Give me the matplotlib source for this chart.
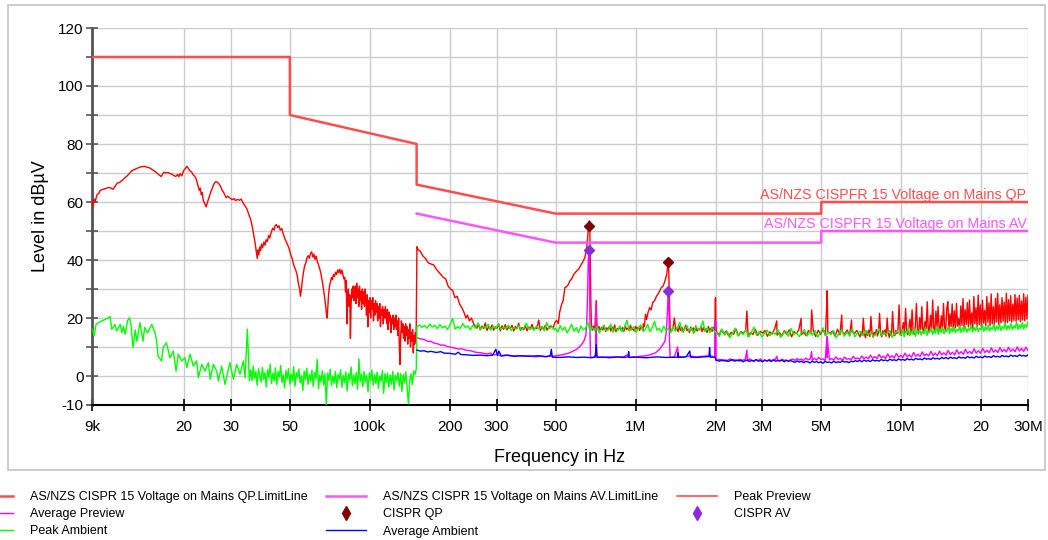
import numpy as np
import matplotlib
matplotlib.use("Agg")
import matplotlib.pyplot as plt
from matplotlib.lines import Line2D
from matplotlib.patches import Rectangle

plt.rcParams['font.family'] = ['Liberation Sans', 'DejaVu Sans']

# ---- limit lines (kHz, dBuV) ----
qp_limit_khz = [9, 50, 50, 150, 150, 500, 5000, 5000, 30000]
qp_limit_db = [110, 110, 90, 80, 66, 56, 56, 60, 60]
av_limit_khz = [150, 500, 5000, 5000, 30000]
av_limit_db = [56, 46, 46, 50, 50]

# ---- final CISPR measurements ----
qp_khz = [668, 1328]
qp_db = [51.6, 39.3]
av_khz = [668, 1328]
av_db = [43.5, 29.3]

# ---- Peak Preview (red) ----
red_a_khz = [9.0, 9.05, 9.15, 9.25, 9.4, 9.55, 9.65, 9.85, 10.1, 10.3, 10.5, 10.8, 11.0, 11.2, 11.45,
             11.7, 11.95, 12.2, 12.5, 12.7, 13.0, 13.3, 13.6, 13.9, 14.2, 14.5, 14.8, 15.1, 15.5, 15.8,
             16.1, 16.4, 16.6, 16.8, 17.1, 17.4, 17.7, 18.0, 18.3, 18.6, 18.9, 19.1, 19.3, 19.6, 19.9,
             20.2, 20.5, 20.8, 21.1, 21.4, 21.6, 21.9, 22.2, 22.5, 22.8, 23.0, 23.2, 23.4, 23.6, 23.9,
             24.2, 24.5, 24.8, 25.2, 25.7, 26.0, 26.3, 26.7, 27.0, 27.4, 27.8, 28.2, 28.8, 29.2, 29.8,
             30.3, 30.8, 31.2, 31.8, 32.3, 32.8, 33.4, 34.0, 34.5, 35.0, 35.6, 36.1, 36.5, 36.9, 37.1,
             37.4, 37.7, 37.9, 38.2, 38.5, 38.8, 39.1, 39.5, 39.9, 40.3, 40.7, 41.1, 41.6, 42.0, 42.5,
             43.1, 43.6, 44.0, 44.5, 45.0, 45.5, 46.0, 46.6, 47.2, 47.8, 48.4, 49.0, 49.6, 50.3, 51.0,
             51.8, 52.6, 53.2, 53.8, 54.4, 54.8, 55.2, 55.7, 56.2, 56.8, 57.4, 58.0, 58.6, 59.2, 59.8,
             60.4, 61.0, 61.6, 62.2, 62.8, 63.4, 64.0, 64.6, 65.2, 65.8, 66.4, 67.0, 67.6, 68.2, 68.6,
             69.0, 69.4, 69.9, 70.5, 71.1, 71.7, 72.3, 72.9, 73.6, 74.3, 75.0, 75.7, 76.4, 77.1, 77.8,
             78.5, 79.2, 79.8]
red_a_db = [60.5, 58.0, 61.0, 60.2, 62.5, 63.0, 64.0, 64.3, 64.6, 64.9, 65.0, 64.4, 65.5, 66.5, 66.8,
            67.5, 68.3, 69.0, 70.0, 70.8, 71.2, 71.6, 72.0, 72.2, 72.3, 72.0, 71.8, 71.3, 70.6, 70.0,
            69.3, 68.8, 69.6, 70.3, 70.0, 70.2, 69.8, 69.6, 69.1, 68.8, 69.5, 68.7, 69.8, 69.0, 70.8,
            71.5, 72.3, 71.4, 70.6, 70.2, 69.5, 68.9, 68.0, 66.0, 64.0, 64.8, 62.5, 63.3, 60.5, 59.5,
            58.3, 60.0, 61.5, 63.5, 65.5, 66.5, 67.0, 66.8, 66.3, 65.5, 64.0, 63.2, 61.5, 62.0, 61.3,
            60.8, 61.2, 60.5, 60.9, 60.6, 61.0, 59.5, 58.5, 57.5, 55.8, 54.0, 51.5, 49.0, 46.5, 45.0,
            43.0, 40.5, 43.5, 41.8, 44.5, 43.2, 45.5, 44.3, 46.2, 45.1, 47.0, 46.3, 48.5, 47.6, 49.5,
            51.0, 50.3, 51.8, 52.2, 51.2, 51.8, 50.3, 50.9, 49.0, 47.5, 46.4, 45.3, 44.1, 42.0, 40.5,
            38.0, 36.5, 35.0, 32.0, 30.0, 27.5, 29.5, 33.0, 35.5, 38.0, 39.0, 40.8, 41.5, 40.6, 42.3,
            42.8, 41.0, 42.0, 40.2, 41.3, 39.5, 38.5, 37.2, 36.0, 34.0, 32.0, 29.5, 27.0, 24.0, 21.5,
            20.0, 23.0, 28.0, 31.0, 32.5, 34.0, 33.2, 35.0, 34.3, 35.8, 35.0, 36.6, 35.6, 36.8, 35.2,
            36.5, 34.8, 33.5]
# dense band 80 kHz .. 149 kHz
red_band_db = [34, 29, 33, 18, 27, 30, 24, 28, 13, 25, 30, 27, 31, 26, 30,
               31, 25, 32, 27, 30, 24, 31, 26, 29, 23, 30, 25, 29, 24, 30,
               27, 21, 28, 17, 26, 22, 27, 20, 26, 23, 27, 19, 25, 21, 26,
               22, 25, 19, 24, 20, 25, 17, 23, 21, 24, 18, 23, 20, 24,
               21, 18, 23, 16, 22, 19, 21, 15, 20, 18, 21, 16, 20, 17,
               21, 16, 19, 14, 20, 10, 4, 14, 19, 15, 18, 13, 17, 12, 18,
               14, 17, 11, 16, 13, 18, 10, 15, 12, 16, 8, 14, 11, 15, 12]
red_b_khz = [150.4, 152, 155, 158, 162, 166, 170, 174, 178, 183, 189, 193, 197, 201, 205, 209,
             213, 218, 222, 226, 230, 233, 237, 241, 246, 250]
red_b_db = [44.6, 43.5, 43.0, 41.5, 40.5, 39.0, 38.6, 38.3, 36.8, 35.5, 34.0, 33.5, 31.0, 30.0,
            29.5, 27.0, 27.5, 24.7, 23.5, 22.0, 20.0, 21.0, 19.0, 20.0, 18.0, 17.0]
red_r1_db = [16.5, 17.8, 15.9, 17.2, 16.4, 18.3, 15.7, 17.0, 16.2, 17.6, 15.8, 16.9, 16.5, 18.0, 15.6,
             17.3, 16.1, 17.7, 15.9, 16.8, 16.4, 17.5, 15.5, 17.1, 16.3, 18.2, 15.8, 16.7, 16.0, 17.4,
             15.6, 16.9, 16.2, 17.8, 15.9, 16.6, 16.4, 19.3, 15.7, 17.0, 16.1, 17.5, 15.8, 16.8, 17.2]
red_c_khz = [482, 490, 497, 505, 512, 518, 527, 534, 542, 550, 558, 566, 575, 585, 600, 612, 625,
             636, 645, 652, 658, 663, 667, 670, 673, 676, 679, 682, 688, 695, 703, 711, 716]
red_c_db = [17.2, 16.5, 18.5, 19.2, 18.0, 22.0, 24.7, 26.0, 30.5, 30.8, 31.5, 32.8, 33.5, 35.0, 36.2,
            37.0, 38.5, 39.7, 41.0, 43.0, 46.0, 50.0, 52.5, 53.5, 50.0, 38.0, 25.0, 18.0, 15.8, 17.2,
            16.4, 26.0, 17.5]
red_r2_db = [16.2, 17.1, 15.6, 16.8, 15.9, 17.4, 15.4, 16.6, 16.0, 17.2, 15.5, 16.9, 15.8, 17.6, 15.3,
             16.4, 16.1, 17.0, 15.7, 16.7, 15.4, 17.3, 16.0, 16.5, 15.6, 17.5, 15.9, 16.3, 15.5, 17.1,
             16.2, 16.8, 15.7, 17.0, 16.4]
red_d_khz = [1065, 1070, 1080, 1090, 1100, 1115, 1130, 1145, 1160, 1180, 1200, 1220, 1250, 1270,
             1290, 1310, 1322, 1328, 1334, 1340, 1350, 1360]
red_d_db = [15.8, 18.0, 17.0, 21.3, 19.5, 22.0, 23.6, 22.8, 25.3, 26.0, 27.6, 28.5, 30.5, 31.0,
            32.8, 35.0, 38.0, 40.0, 36.0, 27.0, 16.0, 15.5]
red_r3_db = [15.6, 16.9, 20.0, 15.9, 16.5, 15.3, 17.2, 15.7, 16.8, 15.2, 16.4, 17.5, 15.6, 16.1, 15.0,
             16.9, 15.8, 16.6, 15.1, 17.3, 15.5, 16.2, 15.9, 17.0, 15.3, 16.7, 15.6, 16.3, 15.0, 17.1,
             15.7, 16.5, 15.4, 16.8, 15.9]
red_spike_khz = [1990, 1996, 2000, 2006, 2625, 3400, 4200, 4600, 5240, 5260, 5280, 5970, 6500]
red_spike_db = [16.0, 26.5, 27.0, 17.0, 22.4, 19.0, 19.9, 22.8, 24.0, 29.4, 23.0, 21.0, 19.3]
red_r4_db = [15.2, 14.1, 16.0, 14.6, 15.5, 13.8, 15.1, 14.4, 16.2, 13.9, 15.3, 14.7, 15.8, 13.6, 15.0,
             14.3, 16.1, 14.0, 15.4, 14.8, 15.7, 13.7, 15.2, 14.5, 16.3, 14.1, 15.0, 13.8, 15.6, 14.4,
             15.9, 13.5, 15.3, 14.6, 16.0, 14.2, 15.1, 13.9, 15.7, 14.7, 15.4, 13.6, 15.8, 14.3, 16.2,
             14.0, 15.2, 14.8, 15.5, 13.7, 16.1, 14.2, 15.0, 14.5, 15.9, 13.8, 15.4, 14.6, 15.7, 14.1]
red_r5_db = [13.5, 15.2, 14.1, 19.9, 14.6, 13.2, 15.5, 14.0, 15.8, 13.6, 20.5, 14.9, 13.4, 15.1, 14.2,
             16.0, 13.8, 15.0, 21.6, 14.3, 13.5, 15.6, 14.4, 15.9, 13.7, 20.0, 14.8, 13.3, 15.4, 14.1,
             22.2, 15.0, 13.9, 15.7, 14.6, 16.1,
             24.5, 15.2, 14.0, 16.3, 18.5, 14.5, 23.3, 15.6, 14.2, 16.8, 19.5, 14.8, 22.8, 15.1, 14.4,
             17.2, 25.0, 15.5, 14.6, 20.1, 16.0, 23.9, 14.9, 15.8, 18.9, 16.4, 25.6, 15.0, 16.2, 21.0,
             15.4, 26.2, 16.6, 15.2, 22.4, 16.9, 24.0, 15.6, 16.4, 20.8, 15.9, 25.0, 16.8, 15.5, 23.2,
             25.6, 16.2, 21.4, 17.0, 24.8, 15.8, 22.5, 16.6, 25.0, 17.2, 19.8, 16.1, 24.2, 17.4, 26.7,
             16.5, 22.9, 17.8, 25.3, 16.9, 26.2, 17.5, 21.8, 16.4, 27.4, 18.0, 23.6, 17.1, 27.9, 17.7,
             24.5, 16.8, 26.1, 18.2, 22.7, 17.4, 27.4, 18.5, 25.2, 17.3, 28.3, 18.0, 23.9, 17.6, 26.8,
             18.7, 28.5, 17.8, 24.6, 18.3, 27.0, 18.9, 25.5, 17.9, 28.5, 18.4, 26.3, 19.0, 27.7, 18.6,
             24.8, 19.2, 28.1, 18.8, 26.9, 19.4, 27.9, 18.7, 25.9, 19.3, 28.4, 19.0, 27.2, 19.6, 27.9]

# ---- Average Preview (magenta) ----
mag_a_khz = [150.4, 155, 160, 165, 170, 175, 180, 185, 190, 195, 200, 207, 215, 222, 230, 240, 250,
             262, 275, 285, 290, 300, 310, 325, 340, 360, 380, 400, 420, 440, 460, 480, 500, 520, 540,
             560, 580, 600, 615, 630, 640, 650, 655, 660, 664, 668, 671, 674, 677, 690, 700, 708, 711,
             714, 725, 760, 800, 850, 900, 940, 950, 1000, 1050, 1100, 1150, 1190, 1230, 1260, 1290,
             1305, 1318, 1328, 1335, 1342, 1350, 1400, 1440, 1450, 1500, 1600, 1700, 1800, 1900, 1985,
             1990, 2005, 2010]
mag_a_db = [13.2, 12.8, 12.6, 12.0, 11.9, 11.3, 11.1, 10.6, 10.7, 10.2, 10.0, 9.7, 9.3, 9.4, 8.9, 8.7,
            8.2, 8.0, 7.6, 7.9, 7.3, 7.4, 7.0, 7.2, 6.9, 7.0, 6.8, 6.9, 6.6, 6.8, 6.6, 6.9, 6.9, 7.2,
            7.5, 7.9, 8.5, 9.2, 10.0, 11.2, 12.2, 14.0, 18.0, 28.0, 40.0, 43.5, 38.0, 15.0, 6.5, 6.4,
            6.6, 7.5, 24.5, 7.2, 6.5, 6.4, 6.6, 6.5, 6.6, 7.5, 6.5, 6.6, 6.8, 7.0, 7.5, 8.0, 9.2, 10.5,
            12.0, 15.0, 22.0, 29.3, 25.0, 12.0, 6.4, 6.6, 10.0, 6.8, 6.5, 6.9, 6.6, 6.8, 7.0, 6.6,
            19.0, 19.0, 5.5]
mag_spike_khz = [2625, 3400, 4600, 5250, 5262, 5275]
mag_spike_db = [8.9, 6.8, 8.4, 13.0, 13.6, 12.5]
mag_noise_db = [5.4, 5.8, 5.2, 5.6, 5.0, 5.5, 5.9, 5.3, 5.6, 5.4, 5.7, 5.1, 5.5, 5.8, 5.2, 5.9, 5.4,
                5.0, 5.6, 5.3, 5.9, 5.2, 5.5, 5.1, 5.7, 5.4, 5.3, 5.8, 5.6, 5.2, 5.8, 5.4, 5.5, 5.1, 5.7,
                5.8, 5.4, 6.0, 5.5, 5.9, 5.3, 6.2, 5.6, 5.8, 5.4, 6.1, 5.5, 6.4, 5.7, 5.9, 5.3, 6.3,
                5.6, 6.0, 5.5, 6.6, 5.7, 6.1, 5.4, 6.5, 5.8, 6.0, 5.6, 6.8, 5.9,
                6.2, 5.8, 6.9, 6.0, 6.5, 5.9, 7.2, 6.1, 6.7, 6.0, 7.4, 6.3, 6.8, 6.1, 7.6, 6.4, 7.0,
                6.2, 7.8, 6.5, 7.1, 6.4, 7.9, 6.6, 7.3, 6.5, 8.1, 6.8, 7.5, 6.7, 8.3, 7.0, 7.6, 6.9,
                8.5, 7.1, 7.9, 7.0, 8.6, 7.3,
                8.0, 7.2, 8.8, 7.4, 8.2, 7.3, 9.0, 7.6, 8.4, 7.5, 9.2, 7.8, 8.5, 7.7, 9.4, 7.9, 8.7,
                7.8, 9.5, 8.1, 8.9, 8.0, 9.7, 8.2, 9.0, 8.1, 9.8, 8.4, 9.2, 8.3, 9.9, 8.5, 9.3, 8.4,
                10.0, 8.6, 9.5, 8.5, 9.9, 8.8]

# ---- Peak Ambient (green) ----
grn_a_khz = [9.05, 9.16, 9.32, 9.52, 9.79, 10.07, 10.37, 10.52, 10.68, 10.99, 11.15, 11.48, 11.65,
             11.82, 12.0, 12.24, 12.46, 12.61, 12.84, 13.1, 13.27, 13.64, 14.0, 14.2, 14.58, 15.1,
             15.54, 15.76, 15.95, 16.44, 16.68, 17.15, 17.69, 18.2, 18.65, 19.01, 19.57, 20.16,
             20.46, 21.06, 21.66, 22.3, 22.62, 23.3, 23.98, 24.68, 25.05, 25.77, 26.53, 26.9, 27.68,
             28.5, 29.33, 29.76, 30.64, 31.53, 32.46, 33.4, 33.9, 34.6, 35.2]
grn_a_db = [16.1, 13.8, 17.8, 18.4, 19.0, 19.5, 20.1, 20.5, 16.1, 17.8, 15.5, 17.8, 14.9, 17.2, 14.4,
            19.0, 20.1, 17.8, 9.8, 15.9, 12.0, 18.4, 12.0, 16.7, 14.9, 17.8, 14.9, 12.0, 6.9, 5.2,
            9.8, 11.5, 6.3, 8.6, 1.7, 7.5, 5.2, 6.3, 2.9, 7.5, 3.4, 5.2, -0.6, 4.0, 1.7, 4.6, -1.1,
            4.0, 1.7, -1.7, 3.4, -2.9, 2.3, 4.6, -1.1, 4.0, 0.6, 5.2, -0.6, 16.1, -1.7]
grn_band_db = [2.1, -1.5, 3.4, -0.8, 1.6, -3.2, 2.5, 0.2, -2.1, 3.0, -1.2, 1.1, -3.8, 2.2, -0.5, 4.1,
               -2.6, 0.9, -1.7, 2.8, -3.0, 1.5, -0.3, 3.6, -2.2, 0.4, -4.1, 1.9, -1.0, 2.6, -2.8, 0.7,
               -1.9, 3.2, -3.5, 1.2, -0.6, 2.4, -2.4, 0.1, -5.0, 1.7, -1.3, 2.7, -2.9, 0.6, -1.8,
               2.0, -3.6, 1.3, -0.9, 5.7, -4.4, 0.3, -2.0, 1.8, -3.1, 0.8, -9.8, 1.0, -1.6, 2.3,
               -3.3, 0.0, -2.5, 1.6, -4.0, 0.5, -1.1, 2.1, -3.9, 0.2, -2.3, 1.4, -5.2, 0.9, -1.4,
               3.1, -3.4, 0.4, -2.7, 1.2, -4.6, 5.9, -1.9, 0.7, -3.7, 1.5, -2.1, 0.3, -5.5, 1.1,
               -1.5, 2.0, -3.2, 0.6, -2.6, 1.3, -4.3, 0.1, -1.8, 1.9, -6.0, 0.8, -2.2, 1.0, -3.8,
               0.4, -2.9, 1.6, -4.8, 0.2, -1.6, 1.2, -3.5, 0.9, -5.3, 0.5, -2.4, 1.4, -4.1, -9.6,
               -1.7, 0.8, -3.0, 1.7, 0.5, 2.4]
grn_g3_db = [17.0, 17.6, 16.8, 17.4, 16.5, 17.9, 16.9, 17.5, 16.3, 17.8, 16.6, 17.2, 16.0, 17.7, 19.9,
             16.2, 17.0, 16.4, 18.1, 16.7, 17.3, 15.9, 17.6, 16.5, 18.3, 16.1, 17.0, 16.6, 17.8, 15.8,
             17.2, 16.4, 18.0, 16.0, 16.9, 16.3, 17.5, 15.7, 16.8, 16.2, 17.4, 15.9, 16.6, 18.2, 16.0,
             16.7, 15.8, 17.3, 16.1, 16.9, 15.6, 18.4, 16.3, 17.0, 15.9]
grn_g4_db = [16.5, 15.2, 17.4, 15.8, 16.9, 14.9, 16.2, 17.8, 15.4, 16.7, 15.0, 17.2, 15.9, 16.4, 18.6,
             15.3, 16.8, 15.6, 17.1, 14.8, 16.3, 17.5, 15.5, 16.0, 17.9, 15.1, 16.6, 15.7, 17.3, 15.2,
             16.9, 19.2, 15.6, 16.2, 17.0, 15.0, 16.5, 17.6, 15.4, 16.1, 17.8, 15.3, 16.7, 18.9, 15.8,
             16.4, 15.1, 17.2, 15.7, 16.3, 14.9, 17.0, 15.5, 16.8, 18.5, 15.2, 16.0, 17.4, 15.6, 16.6,
             14.7, 17.1, 15.9, 16.2, 19.0, 15.3, 16.5, 15.0, 16.9, 15.4]
grn_g5_db = [15.0, 13.6, 16.2, 14.1, 15.4, 13.2, 14.8, 16.5, 13.8, 15.1, 14.3, 15.9, 13.5, 14.9, 16.8,
             14.0, 15.3, 13.4, 14.7, 15.8, 13.9, 15.2, 14.4, 16.1, 13.3, 14.6, 15.5, 13.7, 16.4, 14.2,
             15.0, 13.6, 14.9, 16.0, 13.8, 15.3, 14.1, 15.7, 13.4, 14.8, 16.6, 13.9, 15.1, 14.3, 15.6,
             13.2, 14.7, 15.9, 13.7, 15.2, 14.0, 16.3, 13.5, 14.9, 15.4, 13.8, 15.8, 14.2, 15.1, 13.6,
             14.6, 16.2, 13.9, 15.0, 14.4, 15.7, 13.3, 14.8, 15.5, 14.1]
grn_g6_db = [14.2, 16.1, 13.5, 15.4, 14.8, 16.6, 13.9, 15.2, 14.5, 16.3, 13.7, 15.8, 14.9, 16.0, 14.1,
             15.6, 14.6, 16.8, 14.0, 15.3, 15.1, 16.5, 14.3, 15.9, 14.8, 17.0, 14.4, 16.2, 15.0, 16.7,
             14.6, 15.8, 15.3, 17.1, 14.7, 16.4, 15.2, 16.9, 14.9, 16.1, 15.5, 17.3, 15.0, 16.6, 15.4,
             17.2, 15.1, 16.3, 15.7, 17.5, 15.2, 16.8, 15.6, 17.4, 15.3, 16.5, 15.9, 17.7, 15.4, 17.0,
             15.8, 17.6, 15.5, 16.7, 16.1, 18.0, 15.6, 17.2, 16.0, 17.9, 15.7, 17.0, 16.3, 18.3, 15.9,
             17.4, 16.2, 18.1, 16.0, 17.3, 16.5, 18.6, 16.1, 17.6, 16.4, 18.4, 16.2, 17.8, 16.8, 18.9]

# ---- Average Ambient (blue) ----
blu_a_khz = [150.4, 155, 160, 165, 170, 178, 185, 190, 200, 210, 215, 220, 232, 245, 260, 275, 290,
             298, 302, 306, 312, 330, 350, 370, 400, 430, 460, 478, 482, 486, 520, 560, 600, 640, 680,
             705, 711, 716, 760, 800, 850, 900, 938, 942, 946, 1000, 1100, 1200, 1300, 1440, 1445,
             1450, 1550, 1600, 1610, 1700, 1800, 1890, 1900, 1910, 1990, 2010]
blu_a_db = [8.9, 8.6, 8.7, 8.3, 8.5, 8.1, 8.4, 7.9, 7.8, 7.5, 8.2, 7.4, 7.3, 7.1, 7.2, 7.0, 7.2, 9.2,
            7.1, 8.6, 6.9, 7.2, 6.8, 7.0, 6.8, 7.0, 6.7, 7.0, 9.2, 6.5, 6.4, 6.6, 6.4, 6.5, 6.3, 6.5,
            10.9, 6.4, 6.5, 6.3, 6.6, 6.4, 6.6, 8.4, 6.4, 6.5, 6.3, 6.6, 6.4, 6.5, 8.0, 6.4, 6.6, 8.6,
            6.5, 6.4, 6.6, 6.7, 9.8, 6.5, 6.5, 5.4]
blu_noise_db = [5.4, 5.1, 5.6, 5.2, 5.5, 5.0, 5.3, 5.7, 5.1, 5.4, 5.2, 5.6, 4.9, 5.3, 5.5, 5.0, 5.4,
                5.2, 5.7, 5.1, 5.3, 4.9, 5.5, 5.2, 5.4, 5.0, 5.6, 5.1, 5.3, 5.2, 5.5, 4.9, 5.4, 5.1, 5.3,
                5.0, 4.7, 5.2, 4.8, 5.1, 4.6, 5.0, 4.9, 4.5, 5.1, 4.7, 5.0, 4.6, 4.9, 4.4, 5.0, 4.7,
                4.8, 4.5, 5.1, 4.6, 4.9, 4.7, 5.2, 4.8, 5.0, 4.6, 5.1, 4.9, 5.3,
                5.0, 5.4, 4.9, 5.5, 5.1, 5.3, 5.0, 5.6, 5.2, 5.4, 5.1, 5.7, 5.3, 5.5, 5.2, 5.8, 5.4,
                5.6, 5.3, 5.9, 5.5, 5.7, 5.4, 6.0, 5.6, 5.8, 5.5, 6.1, 5.7, 5.9, 5.6, 6.2, 5.8, 6.0,
                5.7, 6.3, 5.9, 6.1, 5.8, 6.4,
                6.0, 6.4, 5.9, 6.5, 6.1, 6.3, 6.0, 6.6, 6.2, 6.4, 6.1, 6.7, 6.3, 6.5, 6.2, 6.8, 6.4,
                6.6, 6.3, 6.9, 6.5, 6.7, 6.4, 7.0, 6.6, 6.8, 6.5, 7.1, 6.7, 6.9, 6.6, 7.2, 6.8, 7.0,
                6.7, 7.3, 6.9, 7.1, 6.8, 7.3]

x_ticks = [9e3, 20e3, 30e3, 50e3, 100e3, 200e3, 300e3, 500e3, 1e6, 2e6, 3e6, 5e6, 10e6, 20e6, 30e6]
x_labels = ['9k', '20', '30', '50', '100k', '200', '300', '500', '1M', '2M', '3M', '5M', '10M', '20', '30M']
y_ticks = list(range(-10, 121, 10))
y_labels = ['-10', '0', '', '20', '', '40', '', '60', '', '80', '', '100', '', '120']


def trace(*parts):
    # parts: (khz_list, db_list) explicit points, or (f0_khz, f1_khz, db_list) sweep samples
    f, v = [], []
    for p in parts:
        if len(p) == 2:
            f += list(p[0])
            v += list(p[1])
        else:
            f += list(np.geomspace(p[0], p[1], len(p[2])))
            v += list(p[2])
    order = np.argsort(f, kind='stable')
    return np.array(f)[order] * 1e3, np.array(v)[order]


peak_f, peak_v = trace((red_a_khz, red_a_db), (80.5, 149.3, red_band_db), (red_b_khz, red_b_db),
                       (253, 478, red_r1_db), (red_c_khz, red_c_db), (720, 1060, red_r2_db),
                       (red_d_khz, red_d_db), (1370, 1985, red_r3_db), (red_spike_khz, red_spike_db),
                       (2020, 6950, red_r4_db), (7000, 30000, red_r5_db))
avg_f, avg_v = trace((mag_a_khz, mag_a_db), (mag_spike_khz, mag_spike_db), (2030, 30000, mag_noise_db))
amb_f, amb_v = trace((grn_a_khz, grn_a_db), (35.6, 149.5, grn_band_db), (150.4, 495, grn_g3_db),
                     (500, 1980, grn_g4_db), (2020, 9900, grn_g5_db), (10000, 30000, grn_g6_db))
aamb_f, aamb_v = trace((blu_a_khz, blu_a_db), (2030, 30000, blu_noise_db))

fig = plt.figure(figsize=(10.48, 5.4), dpi=100)
fig.patches.append(Rectangle((8 / 1048, 1 - 470 / 540), 1037 / 1048, 465 / 540,
                             transform=fig.transFigure, fill=False, ec='#c4c4c4', lw=1.2))
ax = fig.add_axes([92 / 1048, 135 / 540, 936 / 1048, 377 / 540])

c_qp_lim = '#ff4d4d'
c_av_lim = '#ff55ff'
ax.plot(peak_f, peak_v, color='#ff0000', lw=1.0, zorder=3)
ax.plot(avg_f, avg_v, color='#ff00ff', lw=1.0, zorder=3)
ax.plot(amb_f, amb_v, color='#00ff00', lw=1.0, zorder=3)
ax.plot(aamb_f, aamb_v, color='#0000ff', lw=1.0, zorder=3)
ax.plot(np.array(qp_limit_khz) * 1e3, qp_limit_db, color=c_qp_lim, lw=1.8, zorder=4)
ax.plot(np.array(av_limit_khz) * 1e3, av_limit_db, color=c_av_lim, lw=1.8, zorder=4)
ax.plot(np.array(qp_khz) * 1e3, qp_db, ls='none', marker='D', ms=5.5, color='#800000', zorder=5)
ax.plot(np.array(av_khz) * 1e3, av_db, ls='none', marker='D', ms=5.5, color='#8a2be2', zorder=5)

ax.text(29.6e6, 61.2, 'AS/NZS CISPFR 15 Voltage on Mains QP', color=c_qp_lim, fontsize=10.3,
        ha='right', va='baseline', zorder=6)
ax.text(29.6e6, 51.2, 'AS/NZS CISPFR 15 Voltage on Mains AV', color=c_av_lim, fontsize=10.3,
        ha='right', va='baseline', zorder=6)

ax.set_xscale('log')
ax.set_xlim(9e3, 30e6)
ax.set_ylim(-10, 120)
ax.set_xticks(x_ticks)
ax.set_xticklabels(x_labels)
ax.xaxis.set_minor_locator(matplotlib.ticker.NullLocator())
ax.set_yticks(y_ticks)
ax.set_yticklabels(y_labels)
ax.tick_params(axis='x', direction='inout', length=8, width=1.2, labelsize=11, pad=7)
ax.tick_params(axis='y', direction='inout', length=8, width=1.2, labelsize=11, pad=2, color='#555555')
ax.grid(True, color='#cccccc', lw=1.0)
ax.set_axisbelow(True)
for s in ['top', 'right']:
    ax.spines[s].set_visible(False)
ax.spines['left'].set_color('#555555')
ax.spines['left'].set_linewidth(2)
ax.spines['bottom'].set_linewidth(1.5)
ax.set_xlabel('Frequency in Hz', fontsize=13)
ax.xaxis.set_label_coords(0.5, -0.118)
ax.set_ylabel('Level in dBµV', fontsize=13)
ax.yaxis.set_label_coords(-0.046, 0.5)

handles = [
    Line2D([], [], color=c_qp_lim, lw=1.8),
    Line2D([], [], color='#ff00ff', lw=1),
    Line2D([], [], color='#00ff00', lw=1),
    Line2D([], [], color=c_av_lim, lw=1.8),
    Line2D([], [], ls='none', marker='d', ms=7, color='#800000'),
    Line2D([], [], color='#0000ff', lw=1),
    Line2D([], [], color=c_qp_lim, lw=1.2),
    Line2D([], [], ls='none', marker='d', ms=7, color='#8a2be2'),
]
labels = ['AS/NZS CISPR 15 Voltage on Mains QP.LimitLine', 'Average Preview', 'Peak Ambient',
          'AS/NZS CISPR 15 Voltage on Mains AV.LimitLine', 'CISPR QP', 'Average Ambient',
          'Peak Preview', 'CISPR AV']
fig.legend(handles, labels, ncol=3, loc='upper left', bbox_to_anchor=(-27 / 1048, 1 - 491 / 540),
           frameon=False, fontsize=9, handlelength=3.2, handletextpad=1.35, columnspacing=1.5,
           labelspacing=0.42, borderpad=0, borderaxespad=0)

fig.savefig('out.png', dpi=100)
